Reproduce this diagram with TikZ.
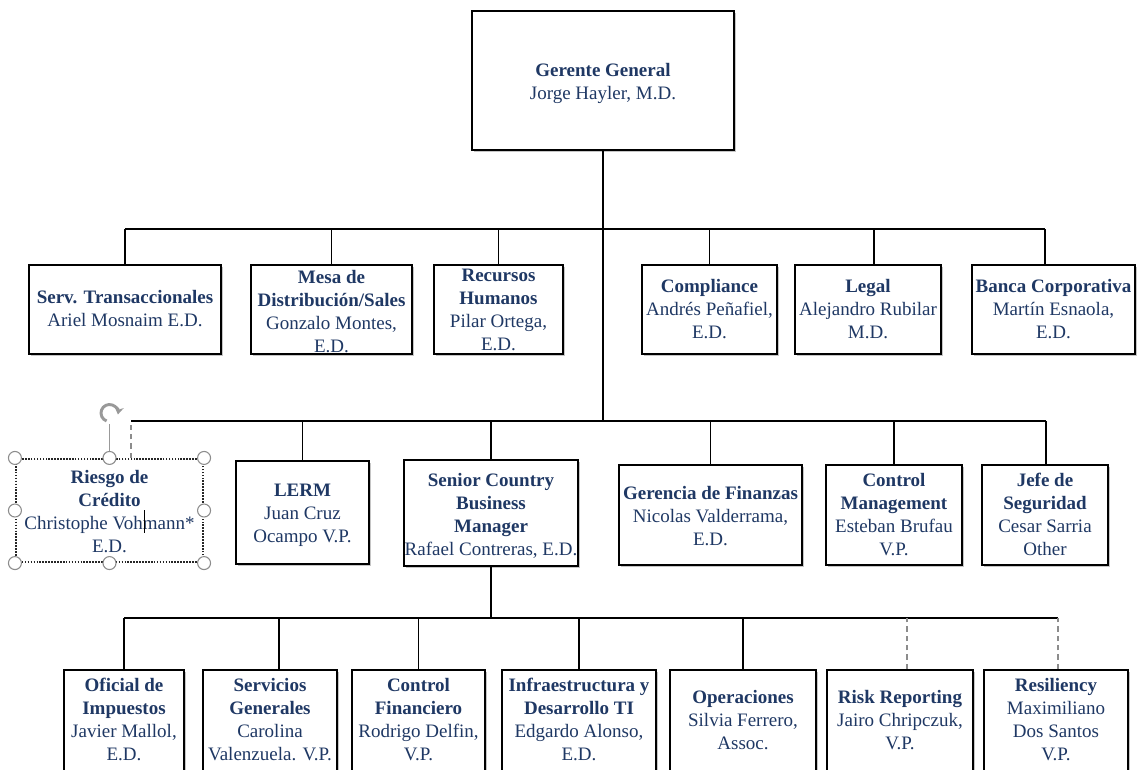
\documentclass[tikz,border=0pt]{standalone}
\usepackage{fontspec}
\setmainfont{Liberation Serif}
\usetikzlibrary{shadows,arrows.meta}
\definecolor{txtblue}{HTML}{1F3864}
% [style]{name}{left}{top}{right}{bottom}{first line y}{text}
\newcommand\orgbox[8][obox]{%
  \pgfmathsetlengthmacro\rz{((#4+#6)/2-#7-6.7)*0.75pt}%
  \node[#1, minimum width={(#5-#3)*0.75pt}, minimum height={(#6-#4)*0.75pt}] (#2) at ({(#3+#5)/2},{(#4+#6)/2})
    {\raisebox{\rz}[0pt][0pt]{\begin{tabular}[t]{@{}c@{}}#8\end{tabular}}};}
\begin{document}
\begin{tikzpicture}[x=0.75pt,y=-0.75pt,
 oboxbase/.style={draw=black, line width=1.4pt, fill=white, inner sep=0pt, text=txtblue,
   font=\fontsize{14.25pt}{17.25pt}\selectfont},
 obox/.style={oboxbase, drop shadow={shadow xshift=1.5pt, shadow yshift=-1.5pt, fill=black!50, opacity=0.45}},
 selbox/.style={oboxbase, draw=black!85, line width=1.6pt, dash pattern=on 1.2pt off 1pt},
 drop/.style={draw=black, line width=0.9pt},
 bus/.style={draw=black, line width=1.6pt},
 trunk/.style={draw=black, line width=2pt},
 dline/.style={draw=black!45, line width=0.8pt, dash pattern=on 4pt off 3pt},
 handle/.style={draw=black!45, fill=white, line width=0.8pt},
 handleline/.style={draw=black!40, line width=0.8pt}
]
\useasboundingbox (0,0) rectangle (1139,769);
\clip (0,0) rectangle (1139,769);
\fill[white] (0,0) rectangle (1139,769);

% boxes
\orgbox{gg}{472}{11}{734}{150}{70}{\textbf{Gerente General}\\Jorge Hayler, M.D.}
\orgbox{serv}{29}{265}{221}{354}{297}{\textbf{Serv. Transaccionales}\\Ariel Mosnaim E.D.}
\orgbox{mesa}{251}{265}{412}{354}{277}{\textbf{Mesa de}\\\textbf{Distribución/Sales}\\Gonzalo Montes,\\E.D.}
\orgbox{rrhh}{434}{265}{563}{354}{275}{\textbf{Recursos}\\\textbf{Humanos}\\Pilar Ortega,\\E.D.}
\orgbox{comp}{642}{265}{777}{354}{286}{\textbf{Compliance}\\Andrés Peñafiel,\\E.D.}
\orgbox{legal}{795}{265}{941}{354}{286}{\textbf{Legal}\\Alejandro Rubilar\\M.D.}
\orgbox{banca}{972}{265}{1135}{354}{286}{\textbf{Banca Corporativa}\\Martín Esnaola,\\E.D.}

\orgbox[selbox]{riesgo}{16}{459}{203}{562}{477}{\textbf{Riesgo de}\\\textbf{Crédito}\\Christophe Vohmann*\\E.D.}
\orgbox{lerm}{236}{461}{369}{564}{490}{\textbf{LERM}\\Juan Cruz\\Ocampo V.P.}
\orgbox{scbm}{404}{460}{578}{566}{480}{\textbf{Senior Country}\\\textbf{Business}\\\textbf{Manager}\\Rafael Contreras, E.D.}
\orgbox{gfin}{619}{465}{802}{565}{493}{\textbf{Gerencia de Finanzas}\\Nicolas Valderrama,\\E.D.}
\orgbox{cmgmt}{826}{465}{962}{565}{480}{\textbf{Control}\\\textbf{Management}\\Esteban Brufau\\V.P.}
\orgbox{jefe}{982}{465}{1108}{565}{480}{\textbf{Jefe de}\\\textbf{Seguridad}\\Cesar Sarria\\Other}

\orgbox{ofi}{64}{670}{184}{772}{685}{\textbf{Oficial de}\\\textbf{Impuestos}\\Javier Mallol,\\E.D.}
\orgbox{sgen}{203}{670}{337}{772}{685}{\textbf{Servicios}\\\textbf{Generales}\\Carolina\\Valenzuela. V.P.}
\orgbox{cfin}{352}{670}{485}{772}{685}{\textbf{Control}\\\textbf{Financiero}\\Rodrigo Delfin,\\V.P.}
\orgbox{infra}{502}{670}{656}{772}{685}{\textbf{Infraestructura y}\\\textbf{Desarrollo TI}\\Edgardo Alonso,\\E.D.}
\orgbox{oper}{670}{670}{816}{772}{697}{\textbf{Operaciones}\\Silvia Ferrero,\\Assoc.}
\orgbox{riskrep}{827}{670}{973}{772}{697}{\textbf{Risk Reporting}\\Jairo Chripczuk,\\V.P.}
\orgbox{resil}{984}{670}{1128}{772}{685}{\textbf{Resiliency}\\Maximiliano\\Dos Santos\\V.P.}

% bus coordinates
\coordinate (b1L) at (125,229); \coordinate (b1R) at (1045,229);
\coordinate (b2L) at (131,421); \coordinate (b2R) at (1046,421);
\coordinate (b3L) at (124,618); \coordinate (b3R) at (1058,618);
\coordinate (jlegal) at (874,229);
\coordinate (jsgen) at (279,618);
\coordinate (jrisk) at (907,618);

% connectors
\draw[trunk] (gg.south) -- (gg.south |- b2L);
\draw[bus] (b1L) -- (b1R);
\draw[bus] (b2L) -- (b2R);
\draw[drop] (b3L) -- (b3R);
\draw[trunk] (scbm.south) -- (scbm.south |- b3L);

\draw[drop] (serv.north) -- (serv.north |- b1L);
\draw[drop] (mesa.north) -- (mesa.north |- b1L);
\draw[drop] (rrhh.north) -- (rrhh.north |- b1L);
\draw[drop] (comp.north) -- (comp.north |- b1L);
\draw[drop] (legal.north -| jlegal) -- (jlegal);
\draw[drop] (banca.north -| b1R) -- (b1R);

\draw[dline] (riesgo.north -| b2L) -- (b2L);
\draw[drop] (lerm.north) -- (lerm.north |- b2L);
\draw[drop] (scbm.north) -- (scbm.north |- b2L);
\draw[drop] (gfin.north) -- (gfin.north |- b2L);
\draw[drop] (cmgmt.north) -- (cmgmt.north |- b2L);
\draw[drop] (jefe.north -| b2R) -- (b2R);

\draw[drop] (ofi.north) -- (ofi.north |- b3L);
\draw[drop] (sgen.north -| jsgen) -- (jsgen);
\draw[drop] (cfin.north) -- (cfin.north |- b3L);
\draw[drop] (infra.north) -- (infra.north |- b3L);
\draw[drop] (oper.north) -- (oper.north |- b3L);
\draw[dline] (riskrep.north -| jrisk) -- (jrisk);
\draw[dline] (resil.north -| b3R) -- (b3R);

% selection handles on Riesgo de Credito
\coordinate (rotbase) at (109.5,424);
\draw[handleline] (riesgo.north) -- (riesgo.north |- rotbase);
\foreach \a in {north west,north,north east,west,east,south west,south,south east}
  \draw[handle] (riesgo.\a) circle (6.5);
\begin{scope}[shift={(109.5,413)}, x=0.75pt, y=0.75pt]
  \draw[black!40, line width=2.2pt, -{Stealth[length=5.5pt,width=7pt]}] (250:8.5) arc[start angle=250, end angle=-10, radius=8.5];
\end{scope}
\draw[black, line width=0.7pt] (144,510) -- (144,533);
\end{tikzpicture}
\end{document}
